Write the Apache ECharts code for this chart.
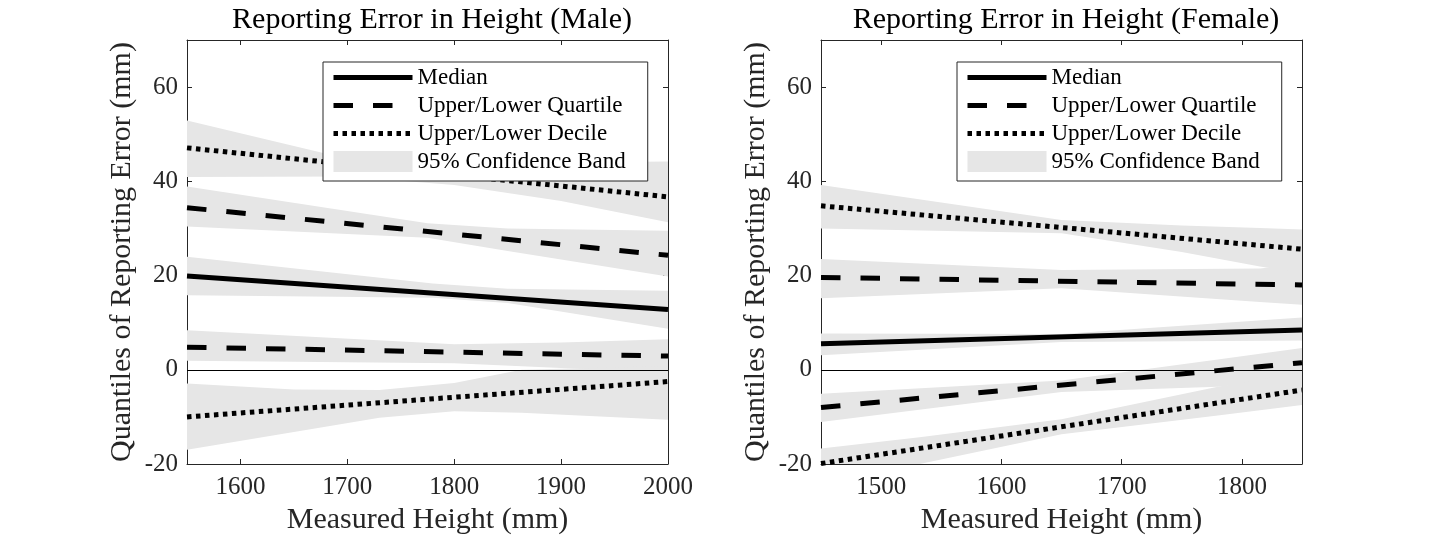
<!DOCTYPE html>
<html>
<head>
<meta charset="utf-8" />
<title>Reporting Error in Height</title>
<script src="https://cdn.jsdelivr.net/npm/echarts@6/dist/echarts.min.js"></script>
<style>
  html, body { margin: 0; padding: 0; background: #fff; }
  #chartmain { width: 1440px; height: 540px; }
</style>
</head>
<body>
<div id="chartmain"></div>
<script type="text/javascript">
// tick labels
var xTicksMale = [1600, 1700, 1800, 1900, 2000];
var xTicksFemale = [1500, 1600, 1700, 1800];
var yTicks = [-20, 0, 20, 40, 60];

// male: fitted quantile lines (value at left / right end)
var xMale = [1550, 2000];
var medianMale = [19.9, 12.8];
var upperQuartileMale = [34.4, 24.3];
var lowerQuartileMale = [4.8, 2.9];
var upperDecileMale = [47.1, 36.7];
var lowerDecileMale = [-10.0, -2.5];

// female
var xFemale = [1450, 1850];
var medianFemale = [5.5, 8.45];
var upperQuartileFemale = [19.6, 18.0];
var lowerQuartileFemale = [-8.0, 1.5];
var upperDecileFemale = [34.8, 25.6];
var lowerDecileFemale = [-19.9, -4.3];

// 95% confidence bands (x, upper edge, lower edge)
var bandMedianMale = { x: [1550, 1780, 1850, 2000], hi: [24.0, 18.3, 17.2, 16.8], lo: [15.8, 15.3, 14.2, 8.7] };
var bandUpperQuartileMale = { x: [1550, 1775, 1850, 2000], hi: [38.9, 31.1, 30.0, 29.5], lo: [30.4, 28.0, 25.2, 19.8] };
var bandLowerQuartileMale = { x: [1550, 1800, 1900, 2000], hi: [8.4, 5.4, 5.8, 6.5], lo: [1.9, 1.4, 0.4, -0.5] };
var bandUpperDecileMale = { x: [1550, 1700, 1800, 1900, 2000], hi: [52.9, 44.8, 44.0, 44.0, 44.2], lo: [40.9, 41.0, 39.2, 35.8, 31.3] };
var bandLowerDecileMale = { x: [1550, 1650, 1730, 1800, 1863, 2000], hi: [-2.9, -4.2, -4.3, -2.8, 0.0, 0.8], lo: [-17.0, -13.2, -10.2, -8.8, -9.1, -10.6] };

var bandMedianFemale = { x: [1450, 1650, 1850], hi: [7.7, 7.6, 11.1], lo: [3.1, 5.9, 6.2] };
var bandUpperQuartileFemale = { x: [1450, 1650, 1815, 1850], hi: [23.5, 21.2, 21.5, 22.5], lo: [15.2, 17.3, 14.4, 13.8] };
var bandLowerQuartileFemale = { x: [1450, 1650, 1780, 1850], hi: [-5.1, -2.3, 2.2, 4.6], lo: [-11.1, -4.7, -3.6, -2.0] };
var bandUpperDecileFemale = { x: [1450, 1650, 1750, 1815, 1850], hi: [39.2, 31.8, 30.6, 30.1, 29.8], lo: [30.0, 29.0, 25.0, 21.9, 20.5] };
var bandLowerDecileFemale = { x: [1450, 1532, 1650, 1780, 1850], hi: [-16.7, -14.3, -10.5, -3.6, -0.5], lo: [-23.5, -20.3, -13.7, -9.7, -7.5] };

var FONT = 'Liberation Serif';
var AXIS = '#262626';
var GRAY = '#e6e6e6';
var LW = 5;
var DASH = [19.5, 20];
var DOT = [4.5, 4.5];

function pairs(xs, ys) {
  return xs.map(function (x, i) { return [x, ys[i]]; });
}

function lineSeries(name, xs, ys, type, idx) {
  return {
    name: name,
    type: 'line',
    xAxisIndex: idx,
    yAxisIndex: idx,
    symbol: 'none',
    silent: true,
    z: 3,
    data: pairs(xs, ys),
    itemStyle: { color: '#000' },
    lineStyle: { color: '#000', width: LW, type: type, cap: 'butt' }
  };
}

function bandSeries(bands, idx) {
  return {
    name: '95% Confidence Band',
    type: 'custom',
    xAxisIndex: idx,
    yAxisIndex: idx,
    silent: true,
    z: 1,
    itemStyle: { color: GRAY },
    encode: { x: 0, y: 1 },
    data: bands.map(function (b, i) {
      var n = b.x.length - 1;
      return [b.x[n], (b.hi[n] + b.lo[n]) / 2, i];
    }),
    renderItem: function (params, api) {
      var b = bands[params.dataIndex];
      var pts = [], i;
      for (i = 0; i < b.x.length; i++) pts.push(api.coord([b.x[i], b.hi[i]]));
      for (i = b.x.length - 1; i >= 0; i--) pts.push(api.coord([b.x[i], b.lo[i]]));
      var cs = params.coordSys;
      pts = echarts.graphic.clipPointsByRect(pts, { x: cs.x, y: cs.y, width: cs.width, height: cs.height });
      return { type: 'polygon', shape: { points: pts }, style: { fill: GRAY } };
    },
    markLine: {
      silent: true,
      symbol: 'none',
      z: 2,
      label: { show: false },
      lineStyle: { color: '#000', width: 1, type: 'solid' },
      data: [{ yAxis: 0 }]
    }
  };
}

function plain(v) { return String(v); }

function xAxis(idx, min, max, ticks, pos) {
  var bottom = pos === 'bottom';
  return {
    type: 'value', gridIndex: idx, position: pos, min: min, max: max,
    axisLine: { show: true, onZero: false, lineStyle: { color: AXIS, width: 1 } },
    axisTick: { show: true, inside: true, length: 5, customValues: ticks, lineStyle: { color: AXIS } },
    axisLabel: { show: bottom, customValues: ticks, formatter: plain, margin: 11, fontFamily: FONT, fontSize: 25, color: AXIS },
    splitLine: { show: false },
    name: bottom ? 'Measured Height (mm)' : '',
    nameLocation: 'middle', nameGap: 41,
    nameTextStyle: { fontFamily: FONT, fontSize: 30, color: AXIS }
  };
}

function yAxis(idx, pos) {
  var left = pos === 'left';
  return {
    type: 'value', gridIndex: idx, position: pos, min: -20, max: 70,
    axisLine: { show: true, onZero: false, lineStyle: { color: AXIS, width: 1 } },
    axisTick: { show: true, inside: true, length: 5, customValues: yTicks, lineStyle: { color: AXIS } },
    axisLabel: { show: left, customValues: yTicks, formatter: plain, margin: 9, fontFamily: FONT, fontSize: 25, color: AXIS },
    splitLine: { show: false },
    name: left ? 'Quantiles of Reporting Error (mm)' : '',
    nameLocation: 'middle', nameGap: 50,
    nameTextStyle: { fontFamily: FONT, fontSize: 30, color: AXIS }
  };
}

function legendAt(left) {
  var clear = { color: 'rgba(0,0,0,0)', borderWidth: 0 };
  return {
    left: left, top: 62, orient: 'vertical', z: 10,
    selectedMode: false,
    backgroundColor: '#fff', borderColor: AXIS, borderWidth: 1, borderRadius: 0,
    padding: [4, 22, 8, 8], itemGap: 5, itemWidth: 79, itemHeight: 21, itemTextGap: 7,
    textStyle: { fontFamily: FONT, fontSize: 23, color: '#000' },
    data: [
      { name: 'Median', itemStyle: clear, lineStyle: { width: LW, type: 'solid', color: '#000' } },
      { name: 'Upper/Lower Quartile', itemStyle: clear, lineStyle: { width: LW, type: DASH, color: '#000' } },
      { name: 'Upper/Lower Decile', itemStyle: clear, lineStyle: { width: LW, type: DOT, color: '#000' } },
      { name: '95% Confidence Band', icon: 'rect', itemStyle: { color: GRAY } }
    ]
  };
}

var myChart = echarts.init(document.getElementById('chartmain'));
var option = {
  backgroundColor: '#fff',
  animation: false,
  title: [
    { text: 'Reporting Error in Height (Male)', left: 427, top: 0, textAlign: 'center',
      textStyle: { fontFamily: FONT, fontSize: 30, fontWeight: 'normal', color: '#000' } },
    { text: 'Reporting Error in Height (Female)', left: 1061, top: 0, textAlign: 'center',
      textStyle: { fontFamily: FONT, fontSize: 30, fontWeight: 'normal', color: '#000' } }
  ],
  legend: [legendAt(323), legendAt(957)],
  grid: [
    { left: 187, width: 481, top: 40, height: 424 },
    { left: 821, width: 481, top: 40, height: 424 }
  ],
  xAxis: [
    xAxis(0, xMale[0], xMale[1], xTicksMale, 'bottom'),
    xAxis(1, xFemale[0], xFemale[1], xTicksFemale, 'bottom'),
    xAxis(0, xMale[0], xMale[1], xTicksMale, 'top'),
    xAxis(1, xFemale[0], xFemale[1], xTicksFemale, 'top')
  ],
  yAxis: [yAxis(0, 'left'), yAxis(1, 'left'), yAxis(0, 'right'), yAxis(1, 'right')],
  series: [
    bandSeries([bandMedianMale, bandUpperQuartileMale, bandLowerQuartileMale, bandUpperDecileMale, bandLowerDecileMale], 0),
    bandSeries([bandMedianFemale, bandUpperQuartileFemale, bandLowerQuartileFemale, bandUpperDecileFemale, bandLowerDecileFemale], 1),
    lineSeries('Median', xMale, medianMale, 'solid', 0),
    lineSeries('Upper/Lower Quartile', xMale, upperQuartileMale, DASH, 0),
    lineSeries('Upper/Lower Quartile', xMale, lowerQuartileMale, DASH, 0),
    lineSeries('Upper/Lower Decile', xMale, upperDecileMale, DOT, 0),
    lineSeries('Upper/Lower Decile', xMale, lowerDecileMale, DOT, 0),
    lineSeries('Median', xFemale, medianFemale, 'solid', 1),
    lineSeries('Upper/Lower Quartile', xFemale, upperQuartileFemale, DASH, 1),
    lineSeries('Upper/Lower Quartile', xFemale, lowerQuartileFemale, DASH, 1),
    lineSeries('Upper/Lower Decile', xFemale, upperDecileFemale, DOT, 1),
    lineSeries('Upper/Lower Decile', xFemale, lowerDecileFemale, DOT, 1)
  ]
};
myChart.setOption(option);
</script>
</body>
</html>
